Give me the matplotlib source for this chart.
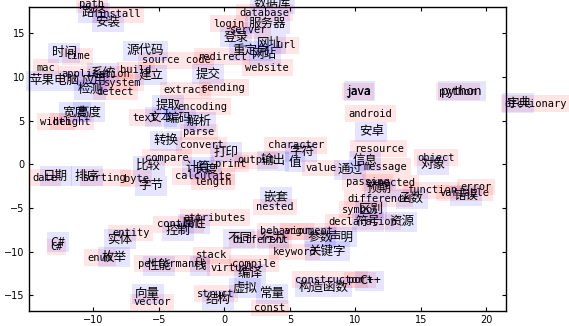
import matplotlib
matplotlib.use("Agg")
import matplotlib.pyplot as plt

# 2-D embedding of programming vocabulary (English words and Chinese words)
en_words = ["path", "install", "time", "source code", "mac", "application", "build",
            "system", "detect", "width", "height", "date", "sorting", "byte", "compare",
            "calculate", "length", "print", "output", "character", "value", "message",
            "object", "resource", "passing", "expected", "function", "variable", "error",
            "difference", "symbol", "declaration", "behavior", "argument", "different",
            "keyword", "nested", "attributes", "control", "entity", "C#", "enum",
            "performance", "stack", "virtual", "compile", "const", "struct", "vector",
            "constructor", "port", "database", "login", "server", "url", "redirect",
            "website", "sending", "extract", "encoding", "text", "parse", "convert",
            "java", "python", "dictionary", "android"]
en_x = [-11.09, -9.74, -12.17, -6.30, -14.33, -12.47, -7.96,
        -9.23, -9.74, -14.08, -13.06, -14.67, -10.77, -7.70, -6.04,
        -3.75, -2.29, -0.74, 0.97, 3.31, 6.20, 10.66,
        14.74, 9.89, 9.26, 10.78, 13.93, 16.40, 18.06,
        9.39, 9.00, 7.98, 2.75, 4.54, 0.59,
        3.68, 2.45, -3.11, -5.15, -8.59, -13.31, -10.43,
        -6.63, -2.17, -1.07, 0.59, 2.29, -2.09, -6.94,
        5.43, 9.43, 1.17, -0.82, 0.46, 4.03, -2.09,
        1.61, -1.71, -4.64, -3.57, -6.99, -3.16, -3.42,
        9.26, 16.40, 21.40, 9.51]
en_y = [17.96, 16.82, 12.01, 11.56, 10.68, 9.95, 10.41,
        8.96, 7.93, 4.50, 4.50, -1.88, -1.88, -1.99, 0.38,
        -1.72, -2.37, -0.27, 0.11, 1.83, -0.77, -0.65,
        0.41, 1.44, -2.37, -2.48, -3.32, -3.63, -2.94,
        -4.27, -5.53, -6.95, -8.01, -8.00, -8.97,
        -10.38, -5.23, -6.45, -7.21, -8.20, -9.80, -11.03,
        -11.72, -10.76, -12.17, -11.72, -16.78, -15.15, -16.10,
        -13.55, -13.58, 16.97, 15.74, 14.99, 13.27, 11.93,
        10.71, 8.42, 8.12, 6.21, 4.99, 3.35, 1.83,
        7.93, 7.93, 6.59, 5.45]

zh_words = ["路径", "安装", "时间", "源代码", "系统", "建立", "苹果电脑", "应用", "检测",
            "宽度", "高度", "日期", "排序", "字节", "比较", "计算", "长度", "打印", "输出",
            "字符", "值", "通过", "信息", "对象", "预期", "函数", "错误", "区别", "符号",
            "资源", "声明", "参数", "行为", "不同", "关键字", "嵌套", "属性", "控制", "实体",
            "C#", "枚举", "性能", "栈", "编译", "虚拟", "常量", "结构", "向量", "构造函数",
            "C++", "数据库", "服务器", "登录", "网址", "重定向", "网站", "提交", "提取",
            "文本", "编码", "解析", "转换", "java", "python", "字典", "安卓"]
zh_x = [-10.89, -9.87, -13.18, -7.44, -10.25, -6.56, -14.92, -10.89, -11.22,
        -12.34, -11.32, -13.85, -11.48, -6.56, -6.73, -2.99, -2.35, -0.82, 2.75,
        4.92, 4.92, 8.62, 9.77, 15.00, 10.90, 13.34, 17.54, 10.28, 10.02,
        12.57, 7.98, 6.32, 2.75, 0.20, 6.45, 3.00, -3.24, -4.51, -8.93,
        -13.31, -9.36, -5.91, -2.35, 1.02, 0.59, 2.70, -1.45, -6.81, 5.68,
        10.28, 2.24, 1.86, -0.05, 2.50, 0.59, 2.12, -2.22, -5.28,
        -5.79, -4.38, -2.85, -5.41, 9.42, 16.56, 21.50, 10.28]
zh_y = [16.90, 15.85, 12.35, 12.60, 10.05, 9.75, 9.17, 9.17, 8.14,
        5.55, 5.55, -1.78, -1.78, -2.84, -0.55, -0.75, -1.01, 0.97, 0.02,
        1.05, -0.17, -1.01, 0.02, -0.47, -3.20, -4.36, -3.98, -5.59, -6.96,
        -6.96, -8.75, -8.75, -8.94, -8.94, -10.36, -4.17, -7.22, -7.99, -8.94,
        -9.31, -11.04, -12.00, -12.00, -12.94, -14.59, -15.23, -15.88, -15.23, -14.47,
        -13.71, 17.96, 15.66, 14.13, 13.37, 12.60, 12.11, 9.94, 6.39,
        4.97, 4.79, 4.48, 2.31, 7.93, 7.93, 6.59, 3.34]

fig = plt.figure(figsize=(5.69, 3.26), dpi=100)
ax = fig.add_axes([0.051, 0.046, 0.838, 0.932])

for w, x, y in zip(en_words, en_x, en_y):
    ax.text(x, y, w, fontsize=7.5, family=["DejaVu Sans Mono", "Noto Sans CJK SC"],
            bbox=dict(facecolor="red", edgecolor="none", alpha=0.1, pad=2.5))
for w, x, y in zip(zh_words, zh_x, zh_y):
    ax.text(x, y, w, fontsize=9, family=["Noto Sans CJK SC", "DejaVu Sans"],
            bbox=dict(facecolor="blue", edgecolor="none", alpha=0.1, pad=2.5))

all_x = en_x + zh_x
all_y = en_y + zh_y
ax.set_xlim(min(all_x), max(all_x))
ax.set_ylim(min(all_y), max(all_y))
ax.set_xticks([-10, -5, 0, 5, 10, 15, 20])
ax.set_yticks([-15, -10, -5, 0, 5, 10, 15])
ax.tick_params(direction="in", top=True, right=True, length=3, labelsize=7, pad=3)
for s in ax.spines.values():
    s.set_linewidth(1.0)

fig.savefig("out.png", dpi=100)
